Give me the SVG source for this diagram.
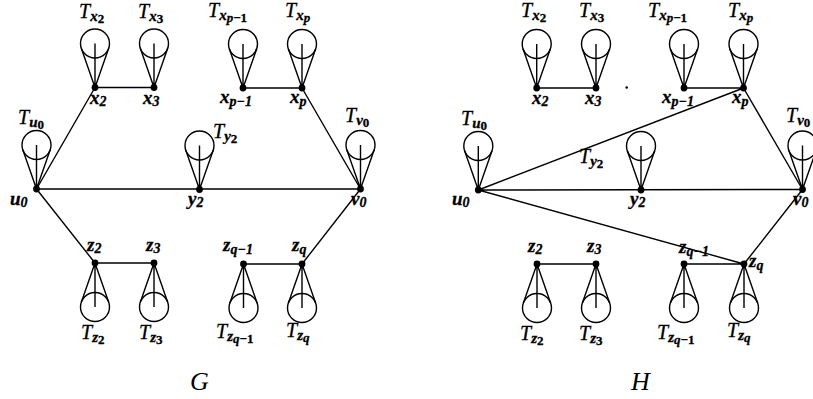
<svg xmlns="http://www.w3.org/2000/svg" xmlns:xlink="http://www.w3.org/1999/xlink" width="813" height="399" viewBox="0 0 813 399">
<style>
.e{stroke:#000;stroke-width:1.4;fill:none}
.c{stroke:#000;stroke-width:1.4;fill:none}
.d{fill:#000}
text{font-family:"Liberation Serif","Times New Roman",serif;fill:#000;stroke:#000;stroke-width:0.3}
.t{font-size:20px;font-style:italic}
.l{font-size:19px;font-style:italic;font-weight:bold}
.s{font-size:15px;font-style:italic;font-weight:bold}
.ls{font-size:14px;font-weight:bold}
.ss{font-size:13px;font-style:italic;font-weight:bold}
.n{font-style:normal}
.big{font-size:26px;font-style:italic;stroke-width:0}
</style>
<defs>
<g id="coneU" class="c">
<circle cx="0" cy="-44" r="14.5"/>
<path d="M0,0 L-13.7,-39.2 M0,0 L13.7,-39.2 M0,0 L0,-44"/>
</g>
<g id="coneD" class="c">
<circle cx="0" cy="44" r="14.5"/>
<path d="M0,0 L-13.7,39.2 M0,0 L13.7,39.2 M0,0 L0,44"/>
</g>
</defs>
<rect width="813" height="399" fill="#fff"/>

<g id="connectors">
<path class="e" d="M36.5,189 L95,87.5 M95,87.5 L154,87.5 M243,88 L302,88 M302,88 L360.5,189 M36.5,189 L360.5,189 M36.5,189 L95,263 M95,263 L154,263 M243.5,264 L302,264 M302,264 L360.5,189"/>
<path class="e" d="M478.3,190 L743.5,88 M536.7,88 L596,88 M684,88 L743.5,88 M743.5,88 L802.5,189.5 M478.3,190 L802.5,189.5 M478.3,190 L744,264 M537,264 L596,264 M684,264 L744,264 M744,264 L802.5,189.5"/>
</g>

<!-- ===== Graph G ===== -->
<g id="G-u0"><use xlink:href="#coneU" x="36.5" y="189"/><circle class="d" cx="36.5" cy="189" r="3.4"/>
<text class="t" x="18" y="124">T<tspan class="s" dy="3">u</tspan><tspan class="ss n" dy="2">0</tspan></text>
<text class="l" x="10" y="205">u<tspan class="ls" dy="2">0</tspan></text></g>
<g id="G-x2"><use xlink:href="#coneU" x="95" y="87.5"/><circle class="d" cx="95" cy="87.5" r="3.4"/>
<text class="t" x="79" y="18">T<tspan class="s" dy="3">x</tspan><tspan class="ss n" dy="2">2</tspan></text>
<text class="l" x="90" y="104">x<tspan class="ls" dy="2">2</tspan></text></g>
<g id="G-x3"><use xlink:href="#coneU" x="154" y="87.5"/><circle class="d" cx="154" cy="87.5" r="3.4"/>
<text class="t" x="138" y="18">T<tspan class="s" dy="3">x</tspan><tspan class="ss n" dy="2">3</tspan></text>
<text class="l" x="143" y="104">x<tspan class="ls" dy="2">3</tspan></text></g>
<g id="G-xp1"><use xlink:href="#coneU" x="243" y="88"/><circle class="d" cx="243" cy="88" r="3.4"/>
<text class="t" x="208" y="17">T<tspan class="s" dy="3">x</tspan><tspan class="ss" dy="2">p</tspan><tspan class="ss n">−1</tspan></text>
<text class="l" x="220" y="103">x<tspan class="ls" dy="3" font-style="italic">p</tspan><tspan class="ls">−1</tspan></text></g>
<g id="G-xp"><use xlink:href="#coneU" x="302" y="88"/><circle class="d" cx="302" cy="88" r="3.4"/>
<text class="t" x="285" y="17">T<tspan class="s" dy="3">x</tspan><tspan class="ss" dy="2">p</tspan></text>
<text class="l" x="290" y="103">x<tspan class="ls" dy="3" font-style="italic">p</tspan></text></g>
<g id="G-v0"><use xlink:href="#coneU" x="360.5" y="189"/><circle class="d" cx="360.5" cy="189" r="3.4"/>
<text class="t" x="345" y="122">T<tspan class="s" dy="3">v</tspan><tspan class="ss n" dy="2">0</tspan></text>
<text class="l" x="351" y="205">v<tspan class="ls" dy="2">0</tspan></text></g>
<g id="G-y2"><use xlink:href="#coneU" x="199.5" y="189.5"/><circle class="d" cx="199.5" cy="189.5" r="3.4"/>
<text class="t" x="213" y="138">T<tspan class="s" dy="3">y</tspan><tspan class="ss n" dy="2">2</tspan></text>
<text class="l" x="188" y="205">y<tspan class="ls" dy="2">2</tspan></text></g>
<g id="G-z2"><use xlink:href="#coneD" x="95" y="263"/><circle class="d" cx="95" cy="263" r="3.4"/>
<text class="l" x="87" y="251">z<tspan class="ls" dy="2">2</tspan></text>
<text class="t" x="81" y="339">T<tspan class="s" dy="3">z</tspan><tspan class="ss n" dy="2">2</tspan></text></g>
<g id="G-z3"><use xlink:href="#coneD" x="154" y="263"/><circle class="d" cx="154" cy="263" r="3.4"/>
<text class="l" x="146" y="251">z<tspan class="ls" dy="2">3</tspan></text>
<text class="t" x="139" y="339">T<tspan class="s" dy="3">z</tspan><tspan class="ss n" dy="2">3</tspan></text></g>
<g id="G-zq1"><use xlink:href="#coneD" x="243.5" y="264"/><circle class="d" cx="243.5" cy="264" r="3.4"/>
<text class="l" x="223" y="251">z<tspan class="ls" dy="3" font-style="italic">q</tspan><tspan class="ls">−1</tspan></text>
<text class="t" x="216" y="338">T<tspan class="s" dy="3">z</tspan><tspan class="ss" dy="2">q</tspan><tspan class="ss n">−1</tspan></text></g>
<g id="G-zq"><use xlink:href="#coneD" x="302" y="264"/><circle class="d" cx="302" cy="264" r="3.4"/>
<text class="l" x="292" y="251">z<tspan class="ls" dy="3" font-style="italic">q</tspan></text>
<text class="t" x="286" y="337">T<tspan class="s" dy="3">z</tspan><tspan class="ss" dy="2">q</tspan></text></g>
<text class="big" x="190" y="390">G</text>

<!-- ===== Graph H ===== -->
<g id="H-u0"><use xlink:href="#coneU" x="478.3" y="190"/><circle class="d" cx="478.3" cy="190" r="3.4"/>
<text class="t" x="461" y="125">T<tspan class="s" dy="3">u</tspan><tspan class="ss n" dy="2">0</tspan></text>
<text class="l" x="452" y="205">u<tspan class="ls" dy="2">0</tspan></text></g>
<g id="H-x2"><use xlink:href="#coneU" x="536.7" y="88"/><circle class="d" cx="536.7" cy="88" r="3.4"/>
<text class="t" x="521" y="17">T<tspan class="s" dy="3">x</tspan><tspan class="ss n" dy="2">2</tspan></text>
<text class="l" x="532" y="104">x<tspan class="ls" dy="2">2</tspan></text></g>
<g id="H-x3"><use xlink:href="#coneU" x="596" y="88"/><circle class="d" cx="596" cy="88" r="3.4"/>
<text class="t" x="579" y="17">T<tspan class="s" dy="3">x</tspan><tspan class="ss n" dy="2">3</tspan></text>
<text class="l" x="585" y="104">x<tspan class="ls" dy="2">3</tspan></text></g>
<circle class="d" cx="626.7" cy="87.5" r="1.3"/>
<g id="H-xp1"><use xlink:href="#coneU" x="684" y="88"/><circle class="d" cx="684" cy="88" r="3.4"/>
<text class="t" x="648" y="17">T<tspan class="s" dy="3">x</tspan><tspan class="ss" dy="2">p</tspan><tspan class="ss n">−1</tspan></text>
<text class="l" x="662" y="103">x<tspan class="ls" dy="3" font-style="italic">p</tspan><tspan class="ls">−1</tspan></text></g>
<g id="H-xp"><use xlink:href="#coneU" x="743.5" y="88"/><circle class="d" cx="743.5" cy="88" r="3.4"/>
<text class="t" x="728" y="17">T<tspan class="s" dy="3">x</tspan><tspan class="ss" dy="2">p</tspan></text>
<text class="l" x="732" y="103">x<tspan class="ls" dy="3" font-style="italic">p</tspan></text></g>
<g id="H-v0"><use xlink:href="#coneU" x="802.5" y="189.5"/><circle class="d" cx="802.5" cy="189.5" r="3.4"/>
<text class="t" x="786" y="122">T<tspan class="s" dy="3">v</tspan><tspan class="ss n" dy="2">0</tspan></text>
<text class="l" x="793" y="205">v<tspan class="ls" dy="2">0</tspan></text></g>
<g id="H-y2"><use xlink:href="#coneU" x="641" y="190"/><circle class="d" cx="641" cy="190" r="3.4"/>
<text class="t" x="579" y="163">T<tspan class="s" dy="3">y</tspan><tspan class="ss n" dy="2">2</tspan></text>
<text class="l" x="630" y="205">y<tspan class="ls" dy="2">2</tspan></text></g>
<g id="H-z2"><use xlink:href="#coneD" x="537" y="264"/><circle class="d" cx="537" cy="264" r="3.4"/>
<text class="l" x="528" y="252">z<tspan class="ls" dy="2">2</tspan></text>
<text class="t" x="520" y="340">T<tspan class="s" dy="3">z</tspan><tspan class="ss n" dy="2">2</tspan></text></g>
<g id="H-z3"><use xlink:href="#coneD" x="596" y="264"/><circle class="d" cx="596" cy="264" r="3.4"/>
<text class="l" x="587" y="252">z<tspan class="ls" dy="2">3</tspan></text>
<text class="t" x="579" y="340">T<tspan class="s" dy="3">z</tspan><tspan class="ss n" dy="2">3</tspan></text></g>
<g id="H-zq1"><use xlink:href="#coneD" x="684" y="264"/><circle class="d" cx="684" cy="264" r="3.4"/>
<text class="l" x="679" y="253">z<tspan class="ls" dy="3" font-style="italic">q</tspan><tspan class="ls">−1</tspan></text>
<text class="t" x="657" y="339">T<tspan class="s" dy="3">z</tspan><tspan class="ss" dy="2">q</tspan><tspan class="ss n">−1</tspan></text></g>
<g id="H-zq"><use xlink:href="#coneD" x="744" y="264"/><circle class="d" cx="744" cy="264" r="3.4"/>
<text class="l" x="749" y="267">z<tspan class="ls" dy="3" font-style="italic">q</tspan></text>
<text class="t" x="727" y="337">T<tspan class="s" dy="3">z</tspan><tspan class="ss" dy="2">q</tspan></text></g>
<text class="big" x="631" y="390">H</text>
</svg>
